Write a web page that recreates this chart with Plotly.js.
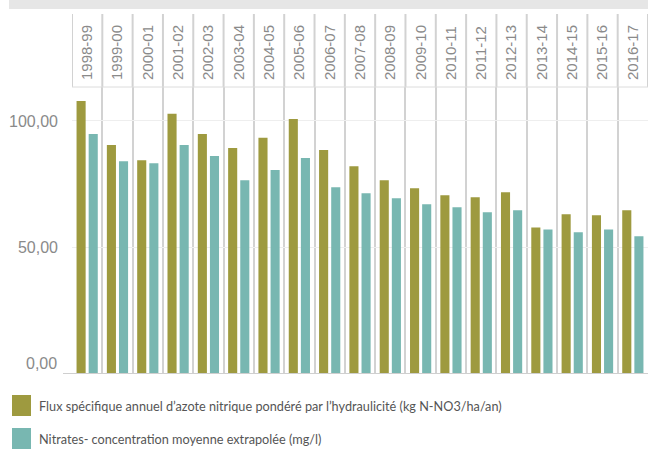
<!DOCTYPE html>
<html>
<head>
<meta charset="utf-8">
<script src="https://cdn.plot.ly/plotly-3.0.1.min.js"></script>
<style>
  body { margin: 0; background: #fff; }
  #chart { width: 648px; height: 449px; }
</style>
</head>
<body>
<div id="chart"></div>
<script>
const years = ['1998-99', '1999-00', '2000-01', '2001-02', '2002-03', '2003-04', '2004-05',
  '2005-06', '2006-07', '2007-08', '2008-09', '2009-10', '2010-11', '2011-12', '2012-13',
  '2013-14', '2014-15', '2015-16', '2016-17'];
const flux = [107.9, 90.5, 84.5, 102.8, 94.8, 89.3, 93.3, 100.8, 88.5, 82.1, 76.6, 73.4,
  70.6, 69.8, 71.8, 57.9, 63.1, 62.7, 64.7];
const nitrates = [94.8, 84.1, 83.3, 90.5, 86.1, 76.6, 80.6, 85.3, 73.8, 71.4, 69.4, 67.1,
  65.9, 63.9, 64.7, 57.1, 56.0, 57.1, 54.4];
const seriesNames = [
  'Flux spécifique annuel d\u2019azote nitrique pondéré par l\u2019hydraulicité (kg N-NO3/ha/an)',
  'Nitrates- concentration moyenne extrapolée (mg/l)'
];
const yTicks = [0, 50, 100];
const yTickText = ['0,00', '50,00', '100,00'];

const colors = ['#9e9a3f', '#78b7b1'];
const gridGrey = '#d2d2d2';
const tickFont = { family: 'Liberation Sans, Arial', size: 16, color: '#8a8a8a' };

// pixel helpers (plot area: x 72..648, y 87..374)
const px = x => (x - 72) / 576;
const py = y => (374 - y) / 287;

let data = [flux, nitrates].map((vals, i) => ({
  type: 'bar',
  x: years,
  y: vals,
  name: seriesNames[i],
  marker: { color: colors[i] },
  hoverinfo: 'x+y+name'
}));

let shapes = [];
// grey band at the very top
shapes.push({ type: 'rect', xref: 'paper', yref: 'paper', x0: px(9), x1: px(648), y0: py(0), y1: py(9),
  fillcolor: '#e6e6e6', line: { width: 0 }, layer: 'below' });
// header separators between year columns
for (let i = 0; i <= years.length; i++) {
  shapes.push({ type: 'line', xref: 'x', yref: 'paper', x0: i - 0.5, x1: i - 0.5, y0: 1, y1: py(14),
    line: { color: gridGrey, width: 2 } });
}
// header bottom line
shapes.push({ type: 'line', xref: 'paper', yref: 'paper', x0: 0, x1: 1, y0: 1, y1: 1,
  line: { color: '#dcdcdc', width: 1 } });
// baseline
shapes.push({ type: 'line', xref: 'paper', yref: 'y', x0: px(63), x1: 1, y0: 0, y1: 0,
  line: { color: '#cfcfcf', width: 2 } });

let annotations = [{
  xref: 'paper', yref: 'y', x: 0, y: 0, xanchor: 'right', yanchor: 'middle',
  xshift: -13, yshift: 11, text: yTickText[0], showarrow: false, font: tickFont
}];

// legend built by hand so the swatches are the same size as the original
const legendTops = [395, 428];
seriesNames.forEach((name, i) => {
  shapes.push({ type: 'rect', xref: 'paper', yref: 'paper', x0: px(12), x1: px(31),
    y0: py(legendTops[i]), y1: py(legendTops[i] + 21), fillcolor: colors[i], line: { width: 0 } });
  annotations.push({ xref: 'paper', yref: 'paper', x: px(37), y: py(legendTops[i] + 11),
    xanchor: 'left', yanchor: 'middle', text: name, showarrow: false,
    font: { family: 'Lato, sans-serif', size: 12.7, color: '#555' } });
});

let layout = {
  width: 648,
  height: 449,
  margin: { l: 72, r: 0, t: 87, b: 75 },
  paper_bgcolor: '#fff',
  plot_bgcolor: '#fff',
  barmode: 'group',
  bargap: 0.2,
  bargroupgap: 0.25,
  showlegend: false,
  xaxis: {
    type: 'category',
    side: 'top',
    range: [-0.5, years.length - 0.5],
    tickangle: -90,
    ticks: '',
    ticklabelstandoff: 6,
    tickson: 'boundaries',
    showgrid: true,
    gridcolor: gridGrey,
    gridwidth: 2,
    showline: false,
    zeroline: false,
    tickfont: Object.assign({}, tickFont, { size: 15 })
  },
  yaxis: {
    range: [0, 113.4],
    tickvals: yTicks,
    ticktext: ['', yTickText[1], yTickText[2]],
    ticks: '',
    ticklabelstandoff: 13,
    showgrid: true,
    gridcolor: '#eeeeee',
    gridwidth: 1,
    zeroline: false,
    showline: false,
    tickfont: tickFont
  },
  shapes: shapes,
  annotations: annotations
};

Plotly.newPlot('chart', data, layout, { displayModeBar: false, staticPlot: true });
</script>
</body>
</html>
